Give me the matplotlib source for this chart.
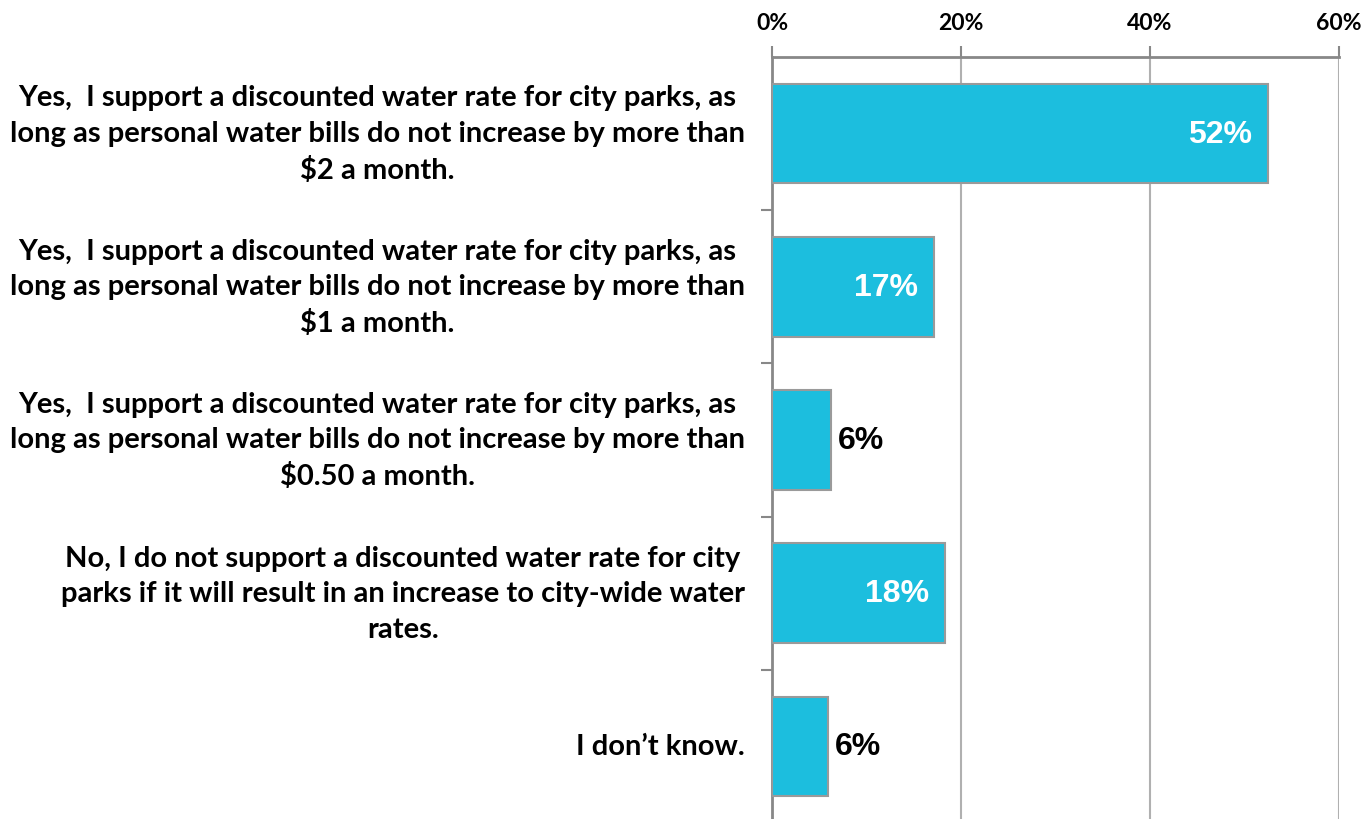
import matplotlib.pyplot as plt
from matplotlib.ticker import FuncFormatter

labels = ["Yes,  I support a discounted water rate for city parks, as\nlong as personal water bills do not increase by more than\n$2 a month.",
          "Yes,  I support a discounted water rate for city parks, as\nlong as personal water bills do not increase by more than\n$1 a month.",
          "Yes,  I support a discounted water rate for city parks, as\nlong as personal water bills do not increase by more than\n$0.50 a month.",
          "No, I do not support a discounted water rate for city\nparks if it will result in an increase to city-wide water\nrates.",
          "I don\u2019t know."]
values = [52.5, 17.2, 6.2, 18.3, 5.9]
shown = ["52%", "17%", "6%", "18%", "6%"]
inside = [True, True, False, True, False]

fig = plt.figure(figsize=(13.67, 8.2), dpi=100)
ax = fig.add_axes([0.5647, -0.0049, 0.4148, 0.9342])

pos = list(range(len(values)))
ax.barh(pos, values, height=0.65, color="#1cbede", edgecolor="#9a9a9a", linewidth=1.5, zorder=3)
ax.set_ylim(len(values) - 0.5, -0.5)
ax.set_xlim(0, 60)

ax.set_xticks([0, 20, 40, 60])
ax.xaxis.set_major_formatter(FuncFormatter(lambda v, p: f"{v:.0f}%"))
ax.xaxis.tick_top()
ax.tick_params(axis="x", length=8, width=1.5, color="#888888", pad=9, labelsize=16.5)
for t in ax.get_xticklabels():
    t.set_fontfamily("Lato")
    t.set_fontweight("bold")
ax.grid(axis="x", color="#b0b0b0", linewidth=1.5, zorder=0)

ax.set_yticks([i + 0.5 for i in range(len(values) - 1)], minor=True)
ax.set_yticks([])
ax.tick_params(axis="y", which="minor", length=8, width=1.5, color="#888888")

for s in ["right", "bottom"]:
    ax.spines[s].set_visible(False)
for s in ["top", "left"]:
    ax.spines[s].set_color("#888888")
    ax.spines[s].set_linewidth(2)

for i, lab in enumerate(labels):
    ax.annotate(lab, xy=(0, i), xycoords=("axes fraction", "data"), xytext=(-27, 0),
                textcoords="offset pixels", ha="right", va="center", multialignment="center",
                fontsize=21, fontfamily="Lato", fontweight="bold", linespacing=1.45)

for i, (v, s, ins) in enumerate(zip(values, shown, inside)):
    if ins:
        ax.annotate(s, xy=(v, i), xytext=(-16, 0), textcoords="offset pixels", ha="right", va="center",
                    color="white", fontsize=23, fontfamily="Liberation Sans", fontweight="bold", zorder=4)
    else:
        ax.annotate(s, xy=(v, i), xytext=(7, 0), textcoords="offset pixels", ha="left", va="center",
                    color="black", fontsize=23, fontfamily="Liberation Sans", fontweight="bold", zorder=4)

fig.savefig("out.png", dpi=100)
